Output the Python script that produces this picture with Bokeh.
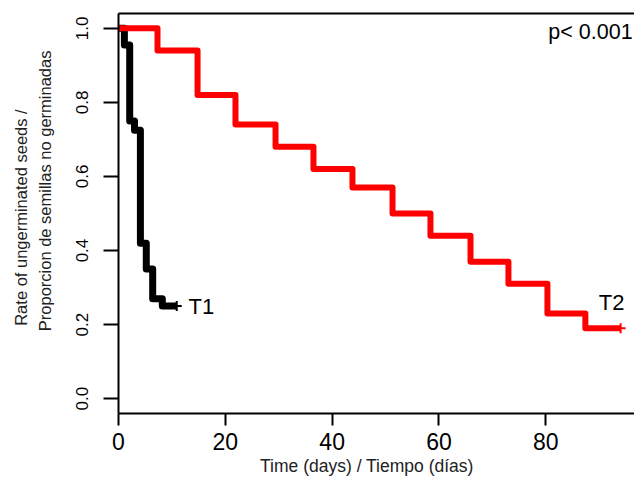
from bokeh.plotting import figure
from bokeh.models import Range1d, FixedTicker, LinearAxis, Label
from bokeh.embed import file_html
from bokeh.resources import INLINE

# --- data ---
t1_times = [0, 1.1, 2.1, 3.0, 4.1, 5.2, 6.4, 8.2, 10.9]
t1_surv = [1.0, 0.955, 0.75, 0.725, 0.42, 0.35, 0.27, 0.25, 0.25]

t2_times = [0, 7.3, 14.8, 21.9, 29.4, 36.5, 43.8, 51.3, 58.4, 65.9, 73.0, 80.3, 87.4, 94.0]
t2_surv = [1.0, 0.94, 0.82, 0.74, 0.68, 0.62, 0.57, 0.50, 0.44, 0.37, 0.31, 0.23, 0.19, 0.19]

x_ticks = [0, 20, 40, 60, 80]
y_ticks = [0.0, 0.2, 0.4, 0.6, 0.8, 1.0]
y_tick_labels = ["0.0", "0.2", "0.4", "0.6", "0.8", "1.0"]

group_names = ["T1", "T2"]
p_text = "p< 0.001"
x_title = "Time (days) / Tiempo (días)"
y_title_1 = "Rate of ungerminated seeds /"
y_title_2 = "Proporcion de semillas no germinadas"

FONT = "Liberation Sans"

p = figure(width=634, height=479, output_backend="svg", toolbar_location=None,
           x_range=Range1d(0, 96.6), y_range=Range1d(-0.04, 1.04),
           min_border_left=118, min_border_right=0, min_border_top=13,
           min_border_bottom=66, x_axis_location="below")
p.outline_line_color = None
p.grid.visible = False
p.background_fill_color = "white"
p.border_fill_color = "white"

# axes
xa = p.xaxis[0]
xa.ticker = FixedTicker(ticks=x_ticks)
xa.axis_line_width = 2
xa.major_tick_line_width = 2
xa.major_tick_out = 12
xa.major_tick_in = 0
xa.minor_tick_line_color = None
xa.major_label_standoff = 7
xa.major_label_text_font = FONT
xa.major_label_text_font_size = "23px"
xa.major_label_text_color = "black"

ya = p.yaxis[0]
ya.ticker = FixedTicker(ticks=y_ticks)
ya.major_label_overrides = {t: l for t, l in zip(y_ticks, y_tick_labels)}
ya.axis_line_width = 2
ya.major_tick_line_width = 2
ya.major_tick_out = 15
ya.major_tick_in = 0
ya.minor_tick_line_color = None
ya.major_label_standoff = 15
ya.major_label_orientation = "vertical"
ya.major_label_text_font = FONT
ya.major_label_text_font_size = "17px"
ya.major_label_text_color = "black"

top = LinearAxis(ticker=FixedTicker(ticks=[]), axis_line_width=2,
                 major_tick_out=0, major_tick_in=0, minor_tick_out=0, minor_tick_in=0,
                 major_label_standoff=0)
p.add_layout(top, "above")


def title_axis(pos, text, size, standoff, vertical):
    ax = LinearAxis(ticker=FixedTicker(ticks=[pos]),
                    major_label_overrides={pos: text},
                    axis_line_color=None, major_tick_line_color=None,
                    minor_tick_line_color=None, major_tick_out=0, major_tick_in=0,
                    minor_tick_out=0, minor_tick_in=0,
                    major_label_standoff=standoff,
                    major_label_text_font=FONT, major_label_text_font_size=size,
                    major_label_text_color="#222222")
    if vertical:
        ax.major_label_orientation = "vertical"
    return ax


# axis titles drawn as single-label axes (centred where the reference centres them)
p.add_layout(title_axis(0.561, y_title_2, "16.5px", 19, True), "left")
p.add_layout(title_axis(0.489, y_title_1, "16.5px", 3, True), "left")
p.add_layout(title_axis(46.5, x_title, "17.5px", 3, False), "below")

# curves
p.step(t1_times, t1_surv, mode="after", line_color="black", line_width=7, line_join="round")
p.step(t2_times, t2_surv, mode="after", line_color="red", line_width=6, line_join="round")

# censor marks at the end of each curve
p.scatter([t1_times[-1]], [t1_surv[-1]], marker="cross", size=10, line_color="black", line_width=2)
p.scatter([t2_times[-1]], [t2_surv[-1]], marker="cross", size=10, line_color="red", line_width=2)

# group labels
p.add_layout(Label(x=t1_times[-1] + 2.2, y=t1_surv[-1], text=group_names[0],
                   text_font=FONT, text_font_size="22px", text_color="black",
                   text_align="left", text_baseline="middle"))
p.add_layout(Label(x=t2_times[-1] - 1.7, y=t2_surv[-1] + 0.07, text=group_names[1],
                   text_font=FONT, text_font_size="22px", text_color="black",
                   text_align="center", text_baseline="middle"))

# p-value
p.add_layout(Label(x=96.25, y=0.99, text=p_text, text_font=FONT,
                   text_font_size="21.5px", text_color="black",
                   text_align="right", text_baseline="alphabetic"))

open("out.html", "w").write(file_html(p, INLINE))
